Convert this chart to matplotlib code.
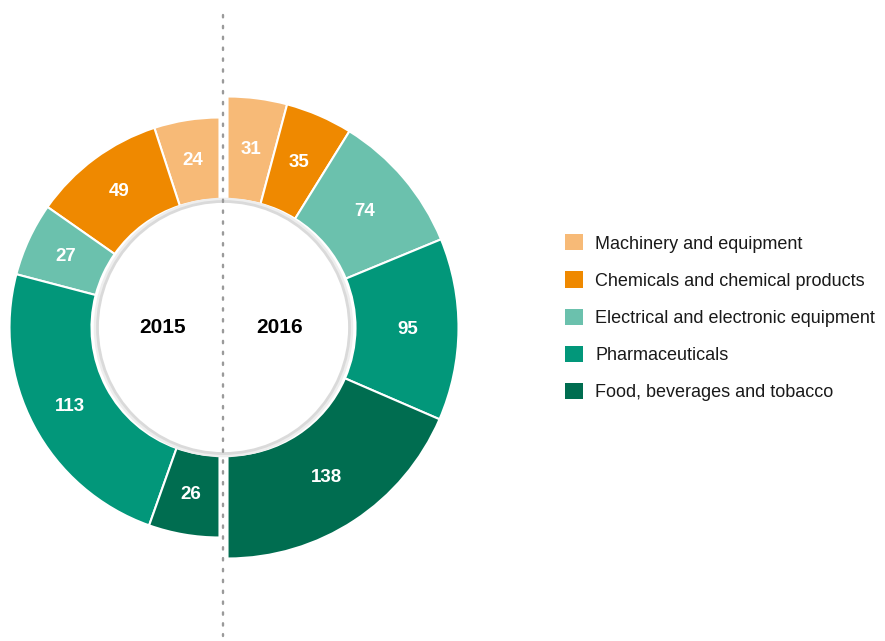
import matplotlib.pyplot as plt
from matplotlib.patches import Circle, Patch
from matplotlib import font_manager
import numpy as np

# data
categories = ["Machinery and equipment", "Chemicals and chemical products",
              "Electrical and electronic equipment", "Pharmaceuticals",
              "Food, beverages and tobacco"]
values_2015 = [24, 49, 27, 113, 26]
values_2016 = [31, 35, 74, 95, 138]
years = ["2015", "2016"]
colors = ["#F7BA77", "#EF8900", "#6BC1AD", "#02977A", "#006D50"]

names = {f.name for f in font_manager.fontManager.ttflist}
font = "Liberation Sans Narrow" if "Liberation Sans Narrow" in names else "Liberation Sans"
plt.rcParams["font.family"] = [font, "DejaVu Sans"]

W, H = 885, 641
fig = plt.figure(figsize=(W / 100, H / 100), dpi=100)
ax = fig.add_axes([0, 0, 1, 1])


def half_donut(vals, center, radius, width, counterclock, label_r):
    fracs = np.array(vals) / (2 * sum(vals))
    wedges, _ = ax.pie(fracs, colors=colors, startangle=90, counterclock=counterclock,
                       normalize=False, radius=radius, center=center,
                       wedgeprops=dict(width=width, edgecolor="white", linewidth=1.5))
    for w, v in zip(wedges, vals):
        th = np.deg2rad((w.theta1 + w.theta2) / 2)
        ax.text(w.center[0] + label_r * np.cos(th), w.center[1] + label_r * np.sin(th),
                str(v), color="white", fontsize=13.5, fontweight="bold",
                ha="center", va="center")


cy = H - 327.5
half_donut(values_2015, (219.5, cy), 210, 82, True, 169)
half_donut(values_2016, (227.5, cy), 231, 103, False, 180)

# centre disc with soft grey rim
for r, lw, c in [(127, 4, "#eeeeee"), (126, 2, "#dadada")]:
    ax.add_patch(Circle((223.5, cy), r, facecolor="white", edgecolor=c, linewidth=lw, zorder=3))
ax.text(163, cy, years[0], fontsize=15, fontweight="bold", ha="center", va="center", zorder=4)
ax.text(280, cy, years[1], fontsize=15, fontweight="bold", ha="center", va="center", zorder=4)

# dotted divider
ax.plot([223, 223], [H - 15, H - 636], color="#9a9a9a", linewidth=1.7,
        linestyle=(0, (1, 3.6)), dash_capstyle="round", zorder=5)

handles = [Patch(facecolor=c, edgecolor="none", label=l) for c, l in zip(colors, categories)]
ax.legend(handles=handles, loc="upper left", bbox_to_anchor=(549 / W, 1 - 218 / H),
          frameon=False, fontsize=13, handlelength=1.0, handleheight=1.0,
          handletextpad=0.65, labelspacing=1.05, labelcolor="#1a1a1a")

ax.set_xlim(0, W)
ax.set_ylim(0, H)
ax.axis("off")
fig.savefig("out.png", dpi=100)
